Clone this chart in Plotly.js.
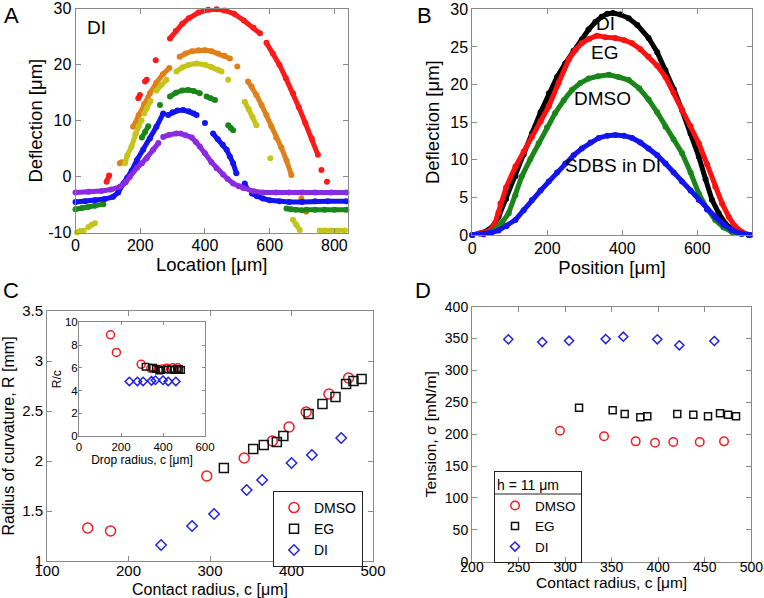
<!DOCTYPE html>
<html><head><meta charset="utf-8">
<script src="https://cdn.plot.ly/plotly-3.0.1.min.js"></script>
<style>html,body{margin:0;padding:0;background:#fff}#chart{width:764px;height:598px}</style>
</head><body><div id="chart"></div>
<script>
// ---------- Panel A : DI deflection profiles (Location, Deflection) ----------
const aRedX = [96,104,null,194,199,null,215,220,null,248,null,292,310,330,350,380,410,436,460,490,520,550,570,null,590,610,630,650,672,690,710,730,749,null,760,null,777];
const aRedY = [-0.9,0.2,null,14.0,14.6,null,17.0,17.3,null,20.8,null,24.7,26.0,27.3,28.3,29.3,29.8,29.9,29.7,29.1,27.9,26.6,25.6,null,23.9,22.0,20.0,17.6,14.9,12.4,9.6,6.8,3.9,null,1.2,null,-0.9];
const aOrangeX = [137,143,null,178,195,212,230,250,270,290,null,322,340,360,380,400,420,440,460,477,null,500,null,533,544,559,575,590,605,620,636,652,667,null,698,null,713,null,749];
const aOrangeY = [2.4,2.6,null,8.9,11.0,13.0,14.9,16.8,18.3,19.4,null,21.4,22.0,22.4,22.6,22.6,22.4,22.0,21.6,21.1,null,19.7,null,17.0,16.1,14.6,12.8,11.0,9.0,7.0,5.2,2.9,0.3,null,-3.9,null,-6.25,null,-10.3];
const aYellowX = [5,15,25,null,40,50,60,null,153,160,173,185,195,204,null,212,220,232,null,250,265,281,null,312,330,350,374,400,420,440,451,null,472,null,523,535,547,559,null,602,null,672,682,693,null,755,770,790,810,832];
const aYellowY = [-9.9,-9.7,-9.6,null,-9.0,-8.6,-8.3,null,2.4,3.8,5.4,7.6,9.0,10.1,null,11.3,12.2,13.5,null,15.4,16.4,17.3,null,18.8,19.5,20.0,20.2,20.0,19.6,19.1,18.8,null,17.3,null,13.4,12.1,10.7,9.2,null,3.3,null,-7.7,-8.6,-9.5,null,-9.6,-9.6,-9.6,-9.6,-9.6];
const aGreenX = [0,20,40,60,86,null,205,215,225,null,261,null,292,310,330,348,365,384,null,405,418,431,null,472,480,487,null,652,665,680,700,null,713,740,770,800,837];
const aGreenY = [-5.8,-5.6,-5.4,-5.2,-4.9,null,7.0,8.0,9.0,null,12.8,null,14.3,15.0,15.4,15.5,15.3,14.9,null,14.3,14.0,13.7,null,9.2,8.7,8.3,null,-5.7,-5.8,-5.9,-6.0,null,-5.9,-5.9,-5.9,-5.9,-5.9];
const aBlueX = [0,30,60,90,116,132,148,160,173,190,209,230,250,271,null,286,300,315,333,350,365,374,null,400,null,425,440,455,467,477,487,497,null,523,528,null,545,560,579,600,630,660,700,740,780,837];
const aBlueY = [-4.5,-4.4,-4.2,-4.0,-3.6,-2.8,-1.2,-0.2,1.0,3.0,4.8,6.8,8.9,11.3,null,11.0,11.5,11.8,11.9,11.7,11.3,11.0,null,9.6,null,7.7,6.7,5.7,4.8,3.6,2.4,0.6,null,-1.2,-2.0,null,-3.0,-3.5,-3.9,-4.2,-4.4,-4.5,-4.5,-4.4,-4.4,-4.4];
const aPurpleX = [0,40,80,110,137,155,168,190,205,220,240,256,null,271,290,312,null,325,340,359,372,384,400,420,436,456,470,487,505,518,550,580,620,660,700,740,790,837];
const aPurpleY = [-2.8,-2.7,-2.55,-2.3,-1.8,-1.0,0,1.6,2.4,3.3,4.8,6.0,null,7.1,7.5,7.7,null,7.7,7.4,7.0,6.2,5.4,4.2,2.6,1.5,0.4,-0.4,-1.2,-1.7,-2.0,-2.6,-2.8,-2.8,-2.8,-2.8,-2.8,-2.8,-2.8];
const aXTicks = [0,200,400,600,800];
const aYTicks = [-10,0,10,20,30];
const aYTickText = ['-10','0','10','20','30'];

// ---------- Panel B : deflection by liquid (Position, Deflection) ----------
const bDIX = [0,20,44,60,70,90,115,137,159,182,204,226,248,270,292,310,328,345,360,375,395,417,440,470,493,515,537,559,582,604,622,639,657,675,695,715,737];
const bDIY = [0,0.2,0.7,1.5,2.4,4.8,7.8,10.7,13.5,16.3,18.8,21.0,22.8,24.5,26.0,27.3,28.3,29.0,29.4,29.5,29.3,28.8,27.9,26.2,24.3,21.9,19.4,16.6,13.5,10.4,7.4,4.7,2.9,1.5,0.7,0.3,0];
const bEGX = [0,20,44,60,70,75,90,115,137,159,182,204,230,257,275,292,312,332,355,381,405,426,448,470,493,515,537,559,582,604,626,648,666,684,700,719,741];
const bEGY = [0,0.2,0.5,1.5,3.0,4.2,6.3,9.1,11.1,13.1,15.1,17.1,20.2,23.3,24.6,25.5,26.1,26.5,26.3,26.2,25.9,25.5,24.7,23.7,22.5,21.0,18.9,16.6,14.5,12.2,9.4,6.4,4.2,2.4,1.2,0.4,0];
const bDMSOX = [0,30,61,80,97,115,132,155,177,199,221,244,266,288,310,335,364,390,417,445,470,493,515,537,559,582,604,626,648,670,692,719,741];
const bDMSOY = [0,0.1,0.7,1.7,2.9,5.3,7.8,10.1,12.2,14.3,16.2,17.9,19.3,20.2,20.8,21.1,21.3,21.0,20.6,19.5,18.0,16.3,14.4,12.7,10.9,8.3,5.5,3.5,2.0,1.0,0.4,0.1,0];
const bSDBSX = [0,30,50,70,92,115,137,159,182,204,226,248,270,292,315,337,360,381,404,426,448,470,493,515,537,559,582,604,626,648,670,692,715,740];
const bSDBSY = [0,0.1,0.3,0.6,1.2,2.0,3.3,4.65,5.9,7.1,8.3,9.5,10.6,11.5,12.3,12.9,13.2,13.3,13.2,12.9,12.3,11.5,10.6,9.5,8.3,7.1,5.9,4.65,3.4,2.4,1.4,0.66,0.2,0];
const bXTicks = [0,200,400,600];
const bYTicks = [0,5,10,15,20,25,30];

// ---------- Panel C : radius of curvature vs contact radius ----------
const cDMSOX = [150,178,296,342,376.5,397,418,446,470];
const cDMSOY = [1.33,1.30,1.85,2.03,2.20,2.34,2.49,2.67,2.83];
const cEGX = [317,353,366,382,390,421,438,454,467,476,486];
const cEGY = [1.93,2.12,2.16,2.19,2.25,2.47,2.57,2.64,2.77,2.80,2.82];
const cDIX = [240,278,305,345,364,400,425,461];
const cDIY = [1.16,1.35,1.47,1.71,1.81,1.98,2.06,2.23];
const cXTicks = [100,200,300,400,500];
const cYTicks = [1,1.5,2,2.5,3,3.5];
const cYTickText = ['1','1.5','2','2.5','3','3.5'];
// inset : R/c vs drop radius
const iDMSOY = [8.9,7.35,6.3,5.95,5.85,5.9,5.95,6.0,6.0];
const iEGY = [6.1,6.0,5.9,5.75,5.8,5.85,5.85,5.8,5.9,5.9,5.8];
const iDIY = [4.8,4.8,4.8,4.85,4.9,4.9,4.8,4.8];
const iXTicks = [0,200,400,600];
const iYTicks = [0,2,4,6,8,10];

// ---------- Panel D : tension vs contact radius ----------
const dDMSOX = [294.5,341.8,375.8,396.6,416.2,444.6,470.7];
const dDMSOY = [205.5,196.7,188.8,186.7,187.8,187.8,188.8];
const dEGX = [315,351.1,364,380.8,388.3,420.5,437.7,453.5,466.4,475,483.6];
const dEGY = [241.6,237.5,231.7,226.5,228,231.7,230.6,228,232.8,230.6,228];
const dDIX = [239,275.5,304.2,343.6,362.5,399,422.7,460.3];
const dDIY = [348.8,344.6,346.7,349.3,353,348.8,339.4,346.2];
const dXTicks = [200,250,300,350,400,450,500];
const dYTicks = [0,50,100,150,200,250,300,350,400];

// ---------- styling ----------
const W = 764, H = 598;
const FONT = 'Arial, "Liberation Sans", sans-serif';
const RED = '#ee1d23', BLUE = '#2222dd', BLACK = '#111111';
const dx = (l, r) => [l / W, r / W];
const dy = (t, b) => [1 - b / H, 1 - t / H];

function ax(extra) {
  return Object.assign({
    showline: true, mirror: 'ticks', linecolor: '#8a8a8a', linewidth: 1,
    ticks: 'inside', ticklen: 5, tickcolor: '#8a8a8a', showgrid: false, zeroline: false,
    tickmode: 'array', tickfont: {family: FONT, size: 16, color: '#000'}, fixedrange: true
  }, extra);
}
function curve(x, y, color, xa, ya, w) {
  return {type: 'scatter', mode: 'lines+markers', x: x, y: y, xaxis: xa, yaxis: ya,
    line: {color: color, width: w}, marker: {color: color, size: w + 1},
    connectgaps: false, showlegend: false, cliponaxis: false, hoverinfo: 'skip'};
}
function pts(x, y, sym, color, size, xa, ya, name, legend) {
  const t = {type: 'scatter', mode: 'markers', x: x, y: y, xaxis: xa, yaxis: ya, name: name,
    marker: {symbol: sym, size: size, color: color, line: {color: color, width: 1.5}},
    showlegend: !!legend, cliponaxis: false, hoverinfo: 'skip'};
  if (legend) t.legend = legend;
  return t;
}

const traces = [
  curve(aRedX, aRedY, '#ff1a1a', 'x', 'y', 5),
  curve(aOrangeX, aOrangeY, '#e0801a', 'x', 'y', 5),
  curve(aYellowX, aYellowY, '#c4c41a', 'x', 'y', 5),
  curve(aGreenX, aGreenY, '#1a861a', 'x', 'y', 5),
  curve(aBlueX, aBlueY, '#1414f0', 'x', 'y', 5),
  curve(aPurpleX, aPurpleY, '#8a2be2', 'x', 'y', 5),

  curve(bDIX, bDIY, '#000000', 'x2', 'y2', 5),
  curve(bEGX, bEGY, '#ff1010', 'x2', 'y2', 5),
  curve(bDMSOX, bDMSOY, '#1a861a', 'x2', 'y2', 5),
  curve(bSDBSX, bSDBSY, '#1414f0', 'x2', 'y2', 5),

  pts(cDMSOX, cDMSOY, 'circle-open', RED, 10, 'x3', 'y3', 'DMSO', 'legend'),
  pts(cEGX, cEGY, 'square-open', BLACK, 9, 'x3', 'y3', 'EG', 'legend'),
  pts(cDIX, cDIY, 'diamond-open', BLUE, 8, 'x3', 'y3', 'DI', 'legend'),

  pts(cDMSOX, iDMSOY, 'circle-open', RED, 8, 'x4', 'y4', 'DMSO', null),
  pts(cEGX, iEGY, 'square-open', BLACK, 6.5, 'x4', 'y4', 'EG', null),
  pts(cDIX, iDIY, 'diamond-open', BLUE, 6.5, 'x4', 'y4', 'DI', null),

  pts(dDMSOX, dDMSOY, 'circle-open', RED, 8.5, 'x5', 'y5', 'DMSO', 'legend2'),
  pts(dEGX, dEGY, 'square-open', BLACK, 7, 'x5', 'y5', 'EG', 'legend2'),
  pts(dDIX, dDIY, 'diamond-open', BLUE, 7, 'x5', 'y5', 'DI', 'legend2')
];

const tA = {family: FONT, size: 18.5, color: '#000'};
const tC = {family: FONT, size: 16, color: '#000'};
const tD = {family: FONT, size: 15.5, color: '#000'};

const layout = {
  width: W, height: H, margin: {l: 0, r: 0, t: 0, b: 0},
  paper_bgcolor: '#fff', plot_bgcolor: 'rgba(0,0,0,0)',
  font: {family: FONT, color: '#000'},
  xaxis: ax({domain: dx(75.5, 348), range: [0, 842], tickvals: aXTicks, anchor: 'y', ticklabelstandoff: -2,
    title: {text: 'Location [μm]', font: tA, standoff: 0}}),
  yaxis: ax({domain: dy(8.7, 232.7), range: [-10, 30], tickvals: aYTicks, ticktext: aYTickText, anchor: 'x',
    title: {text: 'Deflection [μm]', font: tA, standoff: 0}}),
  xaxis2: ax({domain: dx(472.3, 751.7), range: [0, 745], tickvals: bXTicks, anchor: 'y2', ticklabelstandoff: -1,
    title: {text: 'Position [μm]', font: tA, standoff: 2}}),
  yaxis2: ax({domain: dy(9.3, 235), range: [0, 30], tickvals: bYTicks, anchor: 'x2',
    title: {text: 'Deflection [μm]', font: tA, standoff: 5}}),
  xaxis3: ax({domain: dx(47, 373), range: [100, 500], tickvals: cXTicks, anchor: 'y3', ticklabelstandoff: -4,
    tickfont: {family: FONT, size: 15, color: '#000'},
    title: {text: 'Contact radius, c [μm]', font: tC, standoff: 5}}),
  yaxis3: ax({domain: dy(311, 561), range: [1, 3.5], tickvals: cYTicks, ticktext: cYTickText, anchor: 'x3',
    tickfont: {family: FONT, size: 15, color: '#000'},
    title: {text: 'Radius of curvature, R [mm]', font: tC, standoff: 4}}),
  xaxis4: ax({domain: dx(79, 205), range: [0, 600], tickvals: iXTicks, anchor: 'y4', ticklen: 3,
    tickfont: {family: FONT, size: 11.5, color: '#000'},
    title: {text: 'Drop radius, c [μm]', font: {family: FONT, size: 12, color: '#000'}, standoff: 2}}),
  yaxis4: ax({domain: dy(322.3, 436), range: [0, 10], tickvals: iYTicks, anchor: 'x4', ticklen: 3, ticklabelstandoff: -2,
    tickfont: {family: FONT, size: 11.5, color: '#000'},
    title: {text: 'R/c', font: {family: FONT, size: 12, color: '#000'}, standoff: 0}}),
  xaxis5: ax({domain: dx(472, 751.3), range: [200, 500], tickvals: dXTicks, anchor: 'y5', ticklabelstandoff: -8,
    tickfont: {family: FONT, size: 14, color: '#000'},
    title: {text: 'Contact radius, c [μm]', font: tD, standoff: 0}}),
  yaxis5: ax({domain: dy(306.7, 561.7), range: [0, 400], tickvals: dYTicks, anchor: 'x5',
    tickfont: {family: FONT, size: 14, color: '#000'},
    title: {text: 'Tension, σ [mN/m]', font: tD, standoff: 4}}),
  legend: {x: 273 / W, y: 1 - 491 / H, xanchor: 'left', yanchor: 'top', bgcolor: '#fff',
    bordercolor: '#222', borderwidth: 1, font: {family: FONT, size: 14, color: '#000'},
    tracegroupgap: 0, itemwidth: 30},
  legend2: {x: 494 / W, y: 1 - 471 / H, xanchor: 'left', yanchor: 'top', bgcolor: 'rgba(0,0,0,0)',
    bordercolor: '#222', borderwidth: 1, font: {family: FONT, size: 13.5, color: '#000'},
    title: {text: 'h = 11 μm', font: {family: FONT, size: 14, color: '#000'}},
    tracegroupgap: 0, itemwidth: 30},
  shapes: [
    {type: 'line', xref: 'paper', yref: 'paper', x0: 494 / W, x1: 582 / W, y0: 1 - 494 / H, y1: 1 - 494 / H,
     line: {color: '#222', width: 1}}
  ],
  annotations: [
    {text: 'A', x: 11 / W, y: 1 - 16 / H},
    {text: 'B', x: 424 / W, y: 1 - 16 / H},
    {text: 'C', x: 11 / W, y: 1 - 290 / H},
    {text: 'D', x: 423 / W, y: 1 - 290 / H}
  ].map(a => Object.assign({xref: 'paper', yref: 'paper', xanchor: 'center', yanchor: 'middle',
    showarrow: false, font: {family: FONT, size: 22, color: '#000'}}, a)).concat([
    {text: 'DI', xref: 'x', yref: 'y', x: 28, y: 26.7, xanchor: 'left', yanchor: 'middle', showarrow: false, font: {family: FONT, size: 19, color: '#000'}},
    {text: 'DI', xref: 'x2', yref: 'y2', x: 354, y: 28.1, showarrow: false, font: {family: FONT, size: 19, color: '#000'}},
    {text: 'EG', xref: 'x2', yref: 'y2', x: 352, y: 24.3, showarrow: false, font: {family: FONT, size: 19, color: '#000'}},
    {text: 'DMSO', xref: 'x2', yref: 'y2', x: 346, y: 18.2, showarrow: false, font: {family: FONT, size: 19, color: '#000'}},
    {text: 'SDBS in DI', xref: 'x2', yref: 'y2', x: 374, y: 9.3, showarrow: false, font: {family: FONT, size: 19, color: '#000'}}
  ])
};

Plotly.newPlot('chart', traces, layout, {staticPlot: true, displayModeBar: false});
</script>
</body></html>
